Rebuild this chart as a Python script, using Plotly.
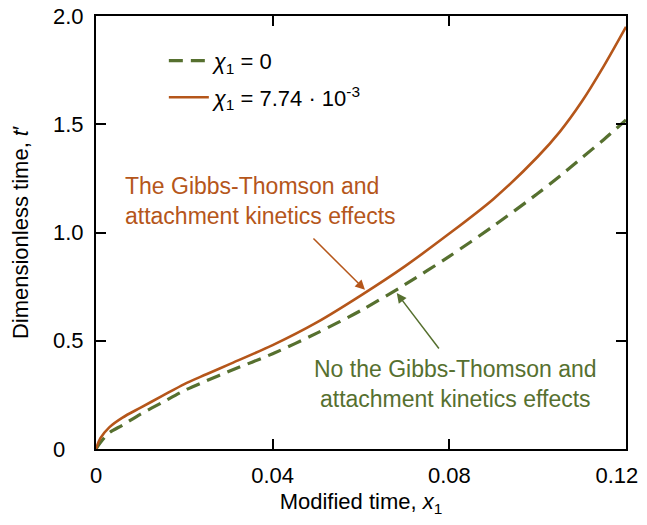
import plotly.graph_objects as go

# Modified time x1
x_vals = [0, 0.001, 0.003, 0.006, 0.01, 0.015, 0.02, 0.025, 0.03, 0.04, 0.05,
          0.06, 0.07, 0.08, 0.09, 0.10, 0.105, 0.11, 0.115, 0.12]
# chi1 = 0 (green dashed)
t_chi0 = [0, 0.03, 0.075, 0.11, 0.16, 0.215, 0.27, 0.315, 0.358, 0.44, 0.535,
          0.64, 0.76, 0.89, 1.03, 1.18, 1.26, 1.345, 1.43, 1.52]
# chi1 = 7.74e-3 (orange solid)
t_chi1 = [0, 0.05, 0.10, 0.145, 0.19, 0.245, 0.30, 0.345, 0.39, 0.48, 0.585,
          0.71, 0.845, 0.995, 1.155, 1.35, 1.465, 1.605, 1.77, 1.95]

x_ticks = [0, 0.04, 0.08, 0.12]
x_ticktext = ["0", "0.04", "0.08", "0.12\u00a0\u00a0\u00a0"]
y_ticks = [0, 0.5, 1.0, 1.5, 2.0]
y_ticktext = ["0\u00a0\u00a0\u00a0", "0.5", "1.0", "1.5", "2.0"]

GREEN = "#56702F"
ORANGE = "#B5561A"
FONT = "Arial, 'Liberation Sans', sans-serif"

fig = go.Figure()
fig.add_trace(go.Scatter(
    x=x_vals, y=t_chi0, mode="lines", line_shape="spline",
    line=dict(color=GREEN, width=3.2, dash="14px,8px", smoothing=0.8),
    legendgroup="g0",
    name="<i>χ</i><sub>1</sub> = 0"))
fig.add_trace(go.Scatter(
    x=x_vals, y=t_chi1, mode="lines", line_shape="spline",
    line=dict(color=ORANGE, width=2.6, smoothing=0.8),
    legendgroup="g1",
    name="<i>χ</i><sub>1</sub> = 7.74 · 10<sup>-3</sup>"))

axis_common = dict(
    showline=True, linecolor="black", linewidth=2, mirror="ticks",
    ticks="inside", ticklen=10, tickwidth=2, tickcolor="black",
    showgrid=False, zeroline=False, automargin=False,
    tickfont=dict(family=FONT, size=22, color="black"),
)

fig.update_xaxes(range=[0, 0.1200001], tickvals=x_ticks, ticktext=x_ticktext,
                 ticklabeloverflow="allow", ticklabelstandoff=6,
                 title=dict(text="Modified time, <i>x</i><sub>1</sub>",
                            font=dict(family=FONT, size=22, color="black"),
                            standoff=14),
                 **axis_common)
fig.update_yaxes(range=[0, 2.0000001], tickvals=y_ticks, ticktext=y_ticktext,
                 ticklabelstandoff=6, ticklabeloverflow="allow",
                 title=dict(text="Dimensionless time, <i>t</i>′",
                            font=dict(family=FONT, size=22, color="black"),
                            standoff=18),
                 **axis_common)

fig.add_annotation(
    x=0.0061, y=1.145, xref="x", yref="y", xanchor="left", yanchor="middle",
    align="left", showarrow=False,
    text="The Gibbs-Thomson and<br>attachment kinetics effects",
    font=dict(family=FONT, size=23, color=ORANGE))
fig.add_annotation(
    x=0.0609, y=0.735, ax=0.0489, ay=0.979, xref="x", yref="y",
    axref="x", ayref="y", text="", showarrow=True,
    arrowhead=2, arrowsize=1.3, arrowwidth=1.5, arrowcolor=ORANGE)

fig.add_annotation(
    x=0.0813, y=0.30, xref="x", yref="y", xanchor="center", yanchor="middle",
    align="center", showarrow=False,
    text="No the Gibbs-Thomson and<br>attachment kinetics effects",
    font=dict(family=FONT, size=23, color=GREEN))
fig.add_annotation(
    x=0.0681, y=0.72, ax=0.0779, ay=0.457, xref="x", yref="y",
    axref="x", ayref="y", text="", showarrow=True,
    arrowhead=2, arrowsize=1.3, arrowwidth=1.5, arrowcolor=GREEN)

fig.update_layout(
    width=639, height=509,
    margin=dict(l=88, r=21, t=8, b=68),
    paper_bgcolor="white", plot_bgcolor="white",
    font=dict(family=FONT, size=22, color="black"),
    showlegend=True,
    legend=dict(x=0.128, y=0.945, xanchor="left", yanchor="top",
                bgcolor="rgba(0,0,0,0)", borderwidth=0,
                traceorder="grouped", tracegroupgap=5,
                font=dict(family=FONT, size=22, color="black"),
                itemwidth=40),
)

fig.write_html("out.html")
